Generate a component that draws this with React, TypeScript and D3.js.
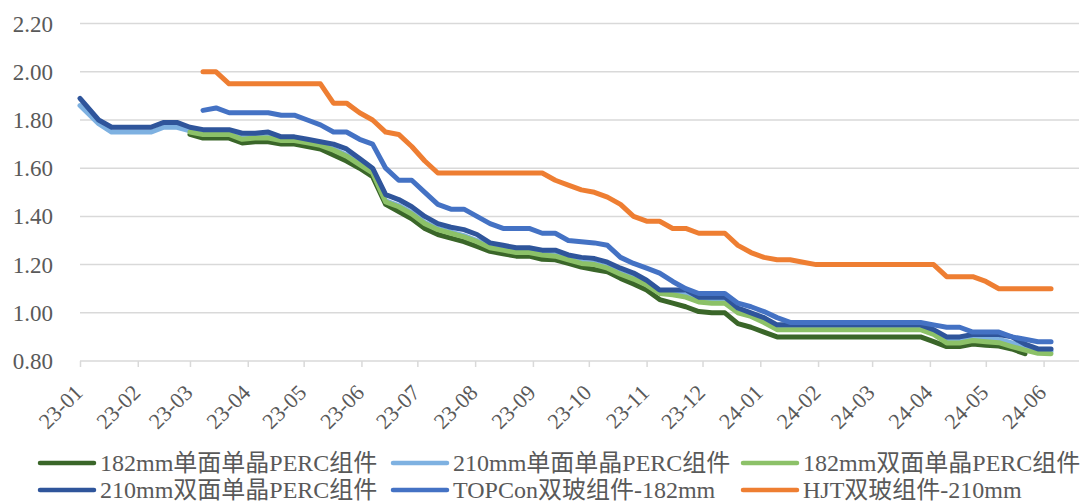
import { useEffect, useRef } from "react";
import * as d3 from "d3";

// Weekly module price chart (元/W), Excel-style date axis.
const WIDTH = 1080;
const HEIGHT = 503;
const PLOT = { left: 80, right: 1079, top: 23.6, bottom: 361 };
const FONT = '"Liberation Serif", "Times New Roman", "Noto Sans CJK SC", serif';
const TEXT = "#595959";
const GRID = "#d9d9d9";

const DATES = [
  "2023-01-01",
  "2023-01-11", "2023-01-18", "2023-01-25",
  "2023-02-01", "2023-02-08", "2023-02-15", "2023-02-22",
  "2023-03-01", "2023-03-08", "2023-03-15", "2023-03-22", "2023-03-29",
  "2023-04-05", "2023-04-12", "2023-04-19", "2023-04-26",
  "2023-05-03", "2023-05-10", "2023-05-17", "2023-05-24", "2023-05-31",
  "2023-06-07", "2023-06-14", "2023-06-21", "2023-06-28",
  "2023-07-05", "2023-07-12", "2023-07-19", "2023-07-26",
  "2023-08-02", "2023-08-09", "2023-08-16", "2023-08-23", "2023-08-30",
  "2023-09-06", "2023-09-13", "2023-09-20", "2023-09-27",
  "2023-10-04", "2023-10-11", "2023-10-18", "2023-10-25",
  "2023-11-01", "2023-11-08", "2023-11-15", "2023-11-22", "2023-11-29",
  "2023-12-06", "2023-12-13", "2023-12-20", "2023-12-27",
  "2024-01-03", "2024-01-10", "2024-01-17", "2024-01-24", "2024-01-31",
  "2024-02-07", "2024-02-14", "2024-02-21", "2024-02-28",
  "2024-03-06", "2024-03-13", "2024-03-20", "2024-03-27",
  "2024-04-03", "2024-04-10", "2024-04-17", "2024-04-24",
  "2024-05-01", "2024-05-08", "2024-05-15", "2024-05-22", "2024-05-29",
  "2024-06-05",
];

type V = number | null;

const MONO_182: V[] = [
  null,
  null, null, null,
  null, null, null, null,
  1.74, 1.725, 1.725, 1.725, 1.705,
  1.71, 1.71, 1.70, 1.70,
  1.69, 1.68, 1.655, 1.63, 1.60,
  1.565, 1.45, 1.42, 1.39,
  1.35, 1.325, 1.31, 1.295,
  1.275, 1.255, 1.245, 1.235, 1.235,
  1.222, 1.22, 1.205, 1.19,
  1.18, 1.17, 1.143, 1.12,
  1.095, 1.055, 1.04, 1.025, 1.005,
  1.00, 1.00, 0.955, 0.94,
  0.92, 0.90, 0.90, 0.90, 0.90,
  0.90, 0.90, 0.90, 0.90,
  0.90, 0.90, 0.90, 0.90,
  0.88, 0.86, 0.86, 0.87,
  0.865, 0.862, 0.85, 0.83, null,
  null,
];

const MONO_210: V[] = [
  1.86,
  1.785, 1.75, 1.75,
  1.75, 1.75, 1.77, 1.77,
  1.755, 1.745, 1.745, 1.745, 1.725,
  1.73, 1.73, 1.72, 1.72,
  1.71, 1.70, 1.68, 1.655, 1.62,
  1.585, 1.465, 1.445, 1.415,
  1.375, 1.35, 1.335, 1.32,
  1.30, 1.275, 1.265, 1.255, 1.255,
  1.245, 1.24, 1.225, 1.21,
  1.205, 1.19, 1.165, 1.145,
  1.12, 1.085, 1.08, 1.075, 1.055,
  1.05, 1.05, 1.01, 0.99,
  0.97, 0.945, 0.94, 0.94, 0.94,
  0.94, 0.94, 0.94, 0.94,
  0.94, 0.94, 0.94, 0.94,
  0.92, 0.885, 0.885, 0.895,
  0.89, 0.89, 0.875, 0.855, 0.84,
  0.84,
];

const BIFACIAL_182: V[] = [
  null,
  null, null, null,
  null, null, null, null,
  1.75, 1.74, 1.74, 1.74, 1.72,
  1.725, 1.725, 1.715, 1.715,
  1.705, 1.695, 1.675, 1.65, 1.615,
  1.58, 1.46, 1.44, 1.41,
  1.37, 1.345, 1.33, 1.315,
  1.295, 1.27, 1.26, 1.25, 1.25,
  1.24, 1.235, 1.22, 1.205,
  1.20, 1.185, 1.16, 1.14,
  1.115, 1.08, 1.075, 1.065, 1.045,
  1.04, 1.04, 1.00, 0.985,
  0.96, 0.93, 0.93, 0.93, 0.93,
  0.93, 0.93, 0.93, 0.93,
  0.93, 0.93, 0.93, 0.93,
  0.91, 0.875, 0.875, 0.885,
  0.88, 0.876, 0.86, 0.845, 0.832,
  0.83,
];

const BIFACIAL_210: V[] = [
  1.89,
  1.80, 1.77, 1.77,
  1.77, 1.77, 1.79, 1.79,
  1.77, 1.76, 1.76, 1.76, 1.745,
  1.745, 1.75, 1.73, 1.73,
  1.72, 1.71, 1.70, 1.68, 1.64,
  1.60, 1.49, 1.47, 1.44,
  1.40, 1.37, 1.355, 1.345,
  1.325, 1.29, 1.28, 1.27, 1.27,
  1.26, 1.26, 1.24, 1.23,
  1.225, 1.21, 1.185, 1.165,
  1.135, 1.095, 1.095, 1.095, 1.065,
  1.065, 1.065, 1.02, 1.00,
  0.98, 0.95, 0.95, 0.95, 0.95,
  0.95, 0.95, 0.95, 0.95,
  0.95, 0.95, 0.95, 0.95,
  0.93, 0.90, 0.90, 0.91,
  0.91, 0.91, 0.90, 0.87, 0.85,
  0.85,
];

const TOPCON_182: V[] = [
  null,
  null, null, null,
  null, null, null, null,
  null, 1.84, 1.85, 1.83, 1.83,
  1.83, 1.83, 1.82, 1.82,
  1.80, 1.78, 1.75, 1.75, 1.72,
  1.70, 1.60, 1.55, 1.55,
  1.50, 1.45, 1.43, 1.43,
  1.40, 1.37, 1.35, 1.35, 1.35,
  1.33, 1.33, 1.30, 1.295,
  1.29, 1.28, 1.23, 1.205,
  1.185, 1.165, 1.13, 1.10, 1.08,
  1.08, 1.08, 1.04, 1.025,
  1.005, 0.98, 0.96, 0.96, 0.96,
  0.96, 0.96, 0.96, 0.96,
  0.96, 0.96, 0.96, 0.96,
  0.95, 0.94, 0.94, 0.92,
  0.92, 0.92, 0.90, 0.89, 0.88,
  0.88,
];

const HJT_210: V[] = [
  null,
  null, null, null,
  null, null, null, null,
  null, 2.00, 2.00, 1.95, 1.95,
  1.95, 1.95, 1.95, 1.95,
  1.95, 1.95, 1.87, 1.87, 1.83,
  1.80, 1.75, 1.74, 1.69,
  1.63, 1.58, 1.58, 1.58,
  1.58, 1.58, 1.58, 1.58, 1.58,
  1.58, 1.55, 1.53, 1.51,
  1.50, 1.48, 1.45, 1.40,
  1.38, 1.38, 1.35, 1.35, 1.33,
  1.33, 1.33, 1.28, 1.25,
  1.23, 1.22, 1.22, 1.21, 1.20,
  1.20, 1.20, 1.20, 1.20,
  1.20, 1.20, 1.20, 1.20,
  1.20, 1.15, 1.15, 1.15,
  1.13, 1.10, 1.10, 1.10, 1.10,
  1.10,
];

const Y_TICKS = [0.8, 1.0, 1.2, 1.4, 1.6, 1.8, 2.0, 2.2];

// draw order follows the legend order (later series on top)
const SERIES = [
  { name: "182mm单面单晶PERC组件", color: "#3a6629", values: MONO_182 },
  { name: "210mm单面单晶PERC组件", color: "#7eb1e1", values: MONO_210 },
  { name: "182mm双面单晶PERC组件", color: "#8cc168", values: BIFACIAL_182 },
  { name: "210mm双面单晶PERC组件", color: "#2f559b", values: BIFACIAL_210 },
  { name: "TOPCon双玻组件-182mm", color: "#4472c4", values: TOPCON_182 },
  { name: "HJT双玻组件-210mm", color: "#ee7e32", values: HJT_210 },
];

// legend: 3 columns x 2 rows
const LEGEND_COLS = [40, 393, 743];
const LEGEND_ROWS = [463, 490];

export default function App() {
  const svgRef = useRef<SVGSVGElement>(null);

  useEffect(() => {
    const svg = d3.select(svgRef.current);
    svg.selectAll("*").remove();

    const parse = d3.timeParse("%Y-%m-%d");
    const dates = DATES.map((d) => parse(d) as Date);

    const x = d3
      .scaleTime()
      .domain([new Date(2023, 0, 1), new Date(2024, 5, 20)])
      .range([PLOT.left, PLOT.right]);
    const y = d3
      .scaleLinear()
      .domain([0.8, 2.2])
      .range([PLOT.bottom, PLOT.top]);

    // horizontal grid
    svg
      .append("g")
      .selectAll("line")
      .data(Y_TICKS.slice(1))
      .join("line")
      .attr("x1", PLOT.left)
      .attr("x2", PLOT.right)
      .attr("y1", (d) => y(d))
      .attr("y2", (d) => y(d))
      .attr("stroke", GRID)
      .attr("stroke-width", 1.5);

    // y labels
    svg
      .append("g")
      .selectAll("text")
      .data(Y_TICKS)
      .join("text")
      .attr("x", 53)
      .attr("y", (d) => y(d))
      .attr("dy", "0.35em")
      .attr("text-anchor", "end")
      .attr("font-family", FONT)
      .attr("font-size", 23)
      .attr("fill", TEXT)
      .text((d) => d3.format(".2f")(d));

    // x axis (monthly ticks)
    const months = d3.timeMonth.range(new Date(2023, 0, 1), new Date(2024, 6, 1));
    const xAxis = svg
      .append("g")
      .attr("transform", `translate(0,${PLOT.bottom})`)
      .call(
        d3
          .axisBottom(x)
          .tickValues(months)
          .tickSize(6)
          .tickSizeOuter(0)
          .tickFormat(() => ""),
      );
    xAxis
      .select(".domain")
      .attr("stroke", GRID)
      .attr("stroke-width", 1.5)
      .attr("d", `M${PLOT.left},0H${PLOT.right}`);
    xAxis.selectAll(".tick line").attr("stroke", GRID).attr("stroke-width", 1.5);

    svg
      .append("g")
      .selectAll("text")
      .data(months)
      .join("text")
      .attr("transform", (d) => `translate(${x(d) + 4},394) rotate(-45)`)
      .attr("text-anchor", "end")
      .attr("font-family", FONT)
      .attr("font-size", 22)
      .attr("fill", TEXT)
      .text((d) => d3.timeFormat("%y-%m")(d));

    // series lines
    const line = d3
      .line<V>()
      .defined((d) => d !== null)
      .x((_, i) => x(dates[i]))
      .y((d) => y(d as number));

    svg
      .append("g")
      .selectAll("path")
      .data(SERIES)
      .join("path")
      .attr("fill", "none")
      .attr("stroke", (s) => s.color)
      .attr("stroke-width", 5)
      .attr("stroke-linejoin", "round")
      .attr("stroke-linecap", "round")
      .attr("d", (s) => line(s.values));

    // legend
    const items = svg
      .append("g")
      .selectAll("g")
      .data(SERIES)
      .join("g")
      .attr(
        "transform",
        (_, i) => `translate(${LEGEND_COLS[i % 3]},${LEGEND_ROWS[Math.floor(i / 3)]})`,
      );
    items
      .append("line")
      .attr("x1", 0)
      .attr("x2", 54)
      .attr("stroke", (s) => s.color)
      .attr("stroke-width", 4.5)
      .attr("stroke-linecap", "round");
    items
      .append("text")
      .attr("x", 60)
      .attr("dy", "0.35em")
      .attr("font-family", FONT)
      .attr("font-size", 24)
      .attr("fill", TEXT)
      .text((s) => s.name);
  }, []);

  return (
    <svg
      ref={svgRef}
      width={WIDTH}
      height={HEIGHT}
      style={{ position: "absolute", left: 0, top: 0, background: "#fff" }}
      role="img"
      aria-label="组件价格走势"
    />
  );
}
